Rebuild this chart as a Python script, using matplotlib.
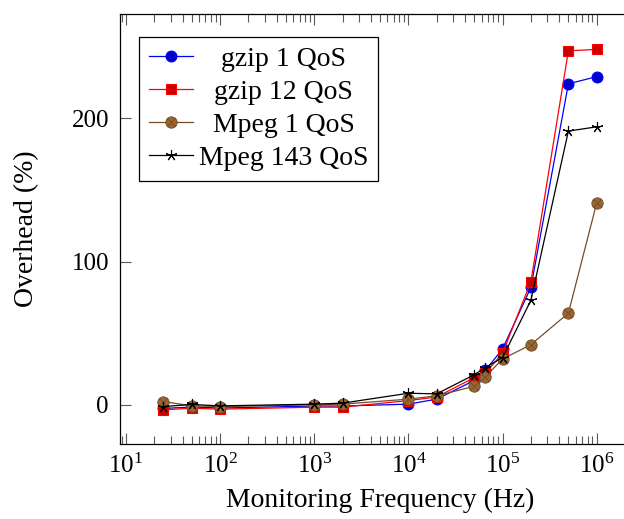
import matplotlib
matplotlib.use("Agg")
import matplotlib.pyplot as plt
from matplotlib.path import Path
from matplotlib.ticker import LogLocator, FixedLocator, NullFormatter

plt.rcParams['font.family'] = ['Liberation Serif', 'DejaVu Serif']
plt.rcParams['mathtext.fontset'] = 'custom'
plt.rcParams['mathtext.rm'] = 'Liberation Serif'

# data
freq = [25, 50, 100, 1000, 2000, 10000, 20000, 50000, 65536, 100000, 200000, 500000, 1000000]
gzip_1 = [-2.5, -1.5, -2.2, -0.8, -0.8, 0.5, 4, 17, 24, 39, 82, 224, 229]
gzip_12 = [-3.5, -2.3, -3, -1.6, -1.6, 3, 5.5, 19, 22, 36, 86, 247, 248]
mpeg_1 = [2.3, -0.7, -1.2, 0, 0.5, 4, 6.3, 13, 19.5, 32, 42, 64, 141]
mpeg_143 = [-1.2, 0.3, -0.7, 0.5, 1.2, 8.1, 7.7, 21, 26, 33, 73, 191, 194]
labels = ['gzip 1 QoS', 'gzip 12 QoS', 'Mpeg 1 QoS', 'Mpeg 143 QoS']
yticks = [0, 100, 200]

# pgfplots "otimes*" mark: filled circle with a cross
c = 0.7071
otimes = Path.make_compound_path(
    Path.unit_circle(),
    Path([[-c, -c], [c, c], [-c, c], [c, -c]],
         [Path.MOVETO, Path.LINETO, Path.MOVETO, Path.LINETO]))

W, H = 624, 519
fig = plt.figure(figsize=(W / 100, H / 100), dpi=100)
ax = fig.add_axes([120 / W, 1 - 444 / H, 520 / W, 430 / H])

lw = 0.9
ax.plot(freq, gzip_1, color='blue', lw=lw, marker='o', ms=7.8,
        mfc=(0, 0, 0.8), mec='blue', mew=0.8, label=labels[0])
ax.plot(freq, gzip_12, color='red', lw=lw, marker='s', ms=7.6,
        mfc=(0.8, 0, 0), mec='red', mew=0.8, label=labels[1])
ax.plot(freq, mpeg_1, color=(0.45, 0.3, 0.15), lw=lw, marker=otimes, ms=8.2,
        mfc=(0.6, 0.4, 0.2), mec=(0.45, 0.3, 0.15), mew=0.6, label=labels[2])
ax.plot(freq, mpeg_143, color='black', lw=lw, marker=(5, 2, 0), ms=8,
        mec='black', mew=0.8, label=labels[3])

ax.set_xscale('log')
ax.set_xlim(8.67, 2.88e6)
ax.set_ylim(-27.3, 272.7)
ax.xaxis.set_major_locator(LogLocator(base=10, numticks=20))
ax.xaxis.set_minor_locator(LogLocator(base=10, subs=range(2, 10), numticks=20))
ax.xaxis.set_minor_formatter(NullFormatter())
ax.yaxis.set_major_locator(FixedLocator(yticks))

ax.tick_params(which='both', direction='in', top=True, right=True,
               color='0.35', width=0.8, labelsize=18)
ax.tick_params(which='major', length=8)
ax.tick_params(which='minor', length=5.5)
ax.tick_params(axis='y', pad=8)
ax.tick_params(axis='x', pad=7)
for s in ax.spines.values():
    s.set_linewidth(0.9)

ax.set_xlabel('Monitoring Frequency (Hz)', fontsize=20, labelpad=7)
ax.set_ylabel('Overhead (%)', fontsize=20)
ax.yaxis.set_label_coords(-0.155, 0.5)

leg = ax.legend(loc='upper left', bbox_to_anchor=(19 / 520, 407 / 430),
                borderaxespad=0, fontsize=20, fancybox=False, framealpha=1,
                edgecolor='black', handlelength=1.6, handletextpad=0.2,
                borderpad=0.35, labelspacing=0.27)
leg.get_frame().set_linewidth(0.9)

# centre the legend entries in their column, like pgfplots
fig.canvas.draw()
r = fig.canvas.get_renderer()
widths = [t.get_window_extent(r).width * 72 / fig.dpi for t in leg.get_texts()]
wmax = max(widths)
items = leg._legend_handle_box.get_children()[0].get_children()
for item, w in zip(items, widths):
    item.sep = item.sep + (wmax - w) / 2

fig.savefig('out.png', dpi=100)
